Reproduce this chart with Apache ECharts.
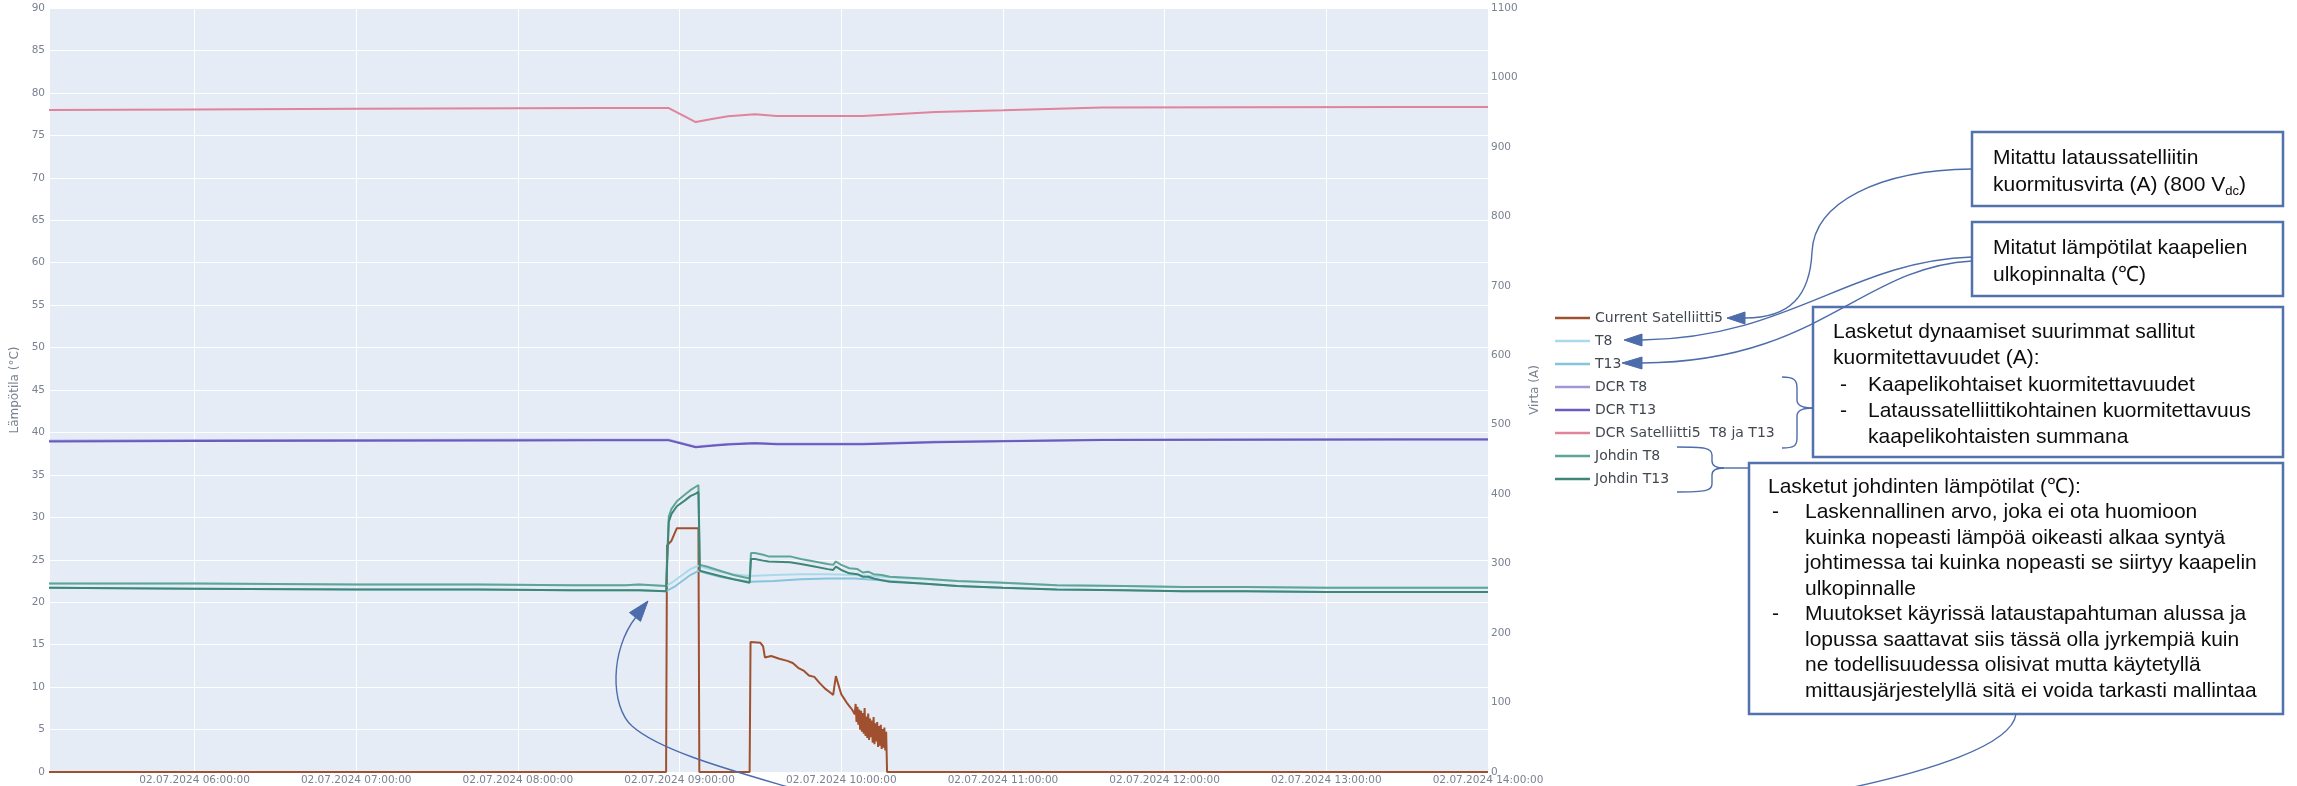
<!DOCTYPE html>
<html>
<head>
<meta charset="utf-8">
<script src="https://cdn.jsdelivr.net/npm/echarts@6/dist/echarts.min.js"></script>
<style>
  html, body { margin: 0; padding: 0; background: #ffffff; }
  #chart { width: 2297px; height: 786px; }
</style>
</head>
<body>
<div id="chart"></div>
<script>
// ---- Measured current of charging satellite 5 (A) ----
const currentTimes = ['05:06','08:55','08:55:20','08:57','08:59','09:07','09:07:20','09:26','09:26:20','09:30','09:31','09:31:40','09:34','09:37','09:40','09:42','09:44','09:46','09:48','09:50','09:52','09:54','09:56','09:57','09:58','09:59','10:00','10:01','10:02','10:03','10:04',
  '10:05:00','10:05:20','10:05:40','10:06:00','10:06:20','10:06:40','10:07:00','10:07:20','10:07:40','10:08:00','10:08:20','10:08:40',
  '10:09:00','10:09:20','10:09:40','10:10:00','10:10:20','10:10:40','10:11:00','10:11:20','10:11:40','10:12:00','10:12:20','10:12:40',
  '10:13:00','10:13:20','10:13:40','10:14:00','10:14:20','10:14:40','10:15:00','10:15:20','10:15:40','10:16:00','10:16:20','10:16:40',
  '10:17:00','14:00'];
const currentValues = [0,0,326,333,351,351,0,0,187,186,181,165,167,163,160,157,150,146,139,137,128,120,114,111,138,125,112,106,100,95,90,
  83,98,72,94,68,90,61,88,58,85,55,92,
  52,80,49,84,46,77,50,74,42,79,40,70,
  44,72,36,66,38,68,33,62,35,64,31,58,
  0,0];

// ---- Measured cable surface temperatures (°C) ----
const surfaceTimes = ['05:06','06:00','07:00','07:45','08:20','08:40','08:45','08:55','08:58','09:01','09:04','09:07','09:10','09:15','09:20','09:26','09:35','09:45','09:55','10:05','10:15','10:30','10:43','11:00','11:20','11:45','12:07','12:30','13:00','13:30','14:00'];
const t8Values  = [22.2,22.2,22.1,22.1,22.0,22.0,22.1,21.9,22.5,23.2,23.9,24.3,24.0,23.6,23.3,23.1,23.2,23.3,23.3,23.2,23.0,22.7,22.5,22.3,22.0,21.9,21.8,21.8,21.7,21.7,21.7];
const t13Values = [21.7,21.6,21.5,21.5,21.4,21.4,21.4,21.3,21.8,22.5,23.2,23.7,23.4,23.0,22.7,22.4,22.5,22.7,22.8,22.8,22.6,22.2,21.9,21.7,21.5,21.4,21.3,21.3,21.2,21.2,21.2];

// ---- Dynamic current ratings (A) ----
const dcrTimes = ['05:06','06:00','07:00','08:00','08:30','08:56','09:06','09:12','09:18','09:28','09:36','10:08','10:35','11:00','11:37','12:30','13:30','14:00'];
const dcrT8Values  = [477.0,477.5,478.0,478.3,478.5,478.5,468.2,470.5,472.3,473.8,472.6,472.6,475.5,476.6,478.5,478.8,479.0,479.0];
const dcrT13Values = [476.0,476.5,477.0,477.3,477.5,477.5,467.6,469.6,471.7,473.2,471.9,471.9,474.9,476.1,478.1,478.3,478.6,478.6];
const dcrSatValues = [953.0,954.0,955.0,955.6,956.0,956.0,935.8,940.1,944.0,947.0,944.5,944.5,950.4,952.7,956.6,957.1,957.6,957.6];

// ---- Calculated conductor temperatures (°C) ----
const conductorTimes = ['05:06','06:00','07:00','07:45','08:20','08:40','08:45','08:55','08:56','08:57','08:59','09:02','09:04','09:06','09:07','09:07:30','09:10','09:15','09:20','09:26','09:26:30','09:28','09:31','09:33','09:41','09:45','09:50','09:55','09:57','09:58','10:00','10:03','10:06','10:08','10:10','10:12','10:15','10:18','10:30','10:43','11:00','11:20','11:45','12:07','12:30','13:00','13:30','14:00'];
const johdinT8Values  = [22.2,22.2,22.1,22.1,22.0,22.0,22.1,21.9,30.1,31.0,31.9,32.7,33.2,33.6,33.8,24.4,24.2,23.7,23.2,22.8,25.8,25.8,25.6,25.4,25.4,25.1,24.8,24.5,24.4,24.8,24.4,24.0,23.9,23.5,23.6,23.3,23.2,23.0,22.8,22.5,22.3,22.0,21.9,21.8,21.8,21.7,21.7,21.7];
const johdinT13Values = [21.7,21.6,21.5,21.5,21.4,21.4,21.4,21.3,29.5,30.4,31.3,32.0,32.5,32.8,33.0,23.7,23.5,23.1,22.7,22.3,25.1,25.1,24.9,24.8,24.7,24.5,24.2,23.9,23.8,24.2,23.8,23.4,23.3,23.0,23.0,22.8,22.6,22.4,22.2,21.9,21.7,21.5,21.4,21.3,21.3,21.2,21.2,21.2];

// ---- Axis ranges ----
const tempAxis = { min: 0, max: 90, step: 5 };
const currentAxis = { min: 0, max: 1100, step: 100 };
const timeRange = ['05:06', '14:00'];

function toMs(hms) {
  const p = hms.split(':').map(Number);
  return Date.UTC(2024, 6, 2, p[0], p[1], p[2] || 0);
}
function zip(times, values) {
  return times.map((t, i) => [toMs(t), values[i]]);
}
function pad(n) { return String(n).padStart(2, '0'); }

const LABEL_GREY = '#7a8190';
const PLOT_FONT = 'DejaVu Sans';
const TICK_SIZE = 10.5;

function lineSeries(name, color, axis, times, values) {
  return {
    name, type: 'line', yAxisIndex: axis, data: zip(times, values),
    showSymbol: false, symbol: 'none', color,
    lineStyle: { color, width: 2 }, emphasis: { disabled: true }
  };
}

const series = [
  lineSeries('Current Satelliitti5', '#a0502e', 1, currentTimes, currentValues),
  lineSeries('T8', '#acd9ea', 0, surfaceTimes, t8Values),
  lineSeries('T13', '#86c4de', 0, surfaceTimes, t13Values),
  lineSeries('DCR T8', '#a396d6', 1, dcrTimes, dcrT8Values),
  lineSeries('DCR T13', '#6a5bc0', 1, dcrTimes, dcrT13Values),
  lineSeries('DCR Satelliitti5  T8 ja T13', '#e0839b', 1, dcrTimes, dcrSatValues),
  lineSeries('Johdin T8', '#5fa596', 0, conductorTimes, johdinT8Values),
  lineSeries('Johdin T13', '#3e8676', 0, conductorTimes, johdinT13Values)
];

// ---- Annotation overlay (callout boxes, braces and arrows) ----
const EDGE = '#5272ae';
const WIRE = '#4d6cab';
const NOTE_FONT = '21px "Liberation Sans"';
const NOTE_SMALL = '13px "Liberation Sans"';

const measureCtx = document.createElement('canvas').getContext('2d');
function textWidth(str, font) { measureCtx.font = font; return measureCtx.measureText(str).width; }

function box(x, y, w, h) {
  return { type: 'rect', z: 100, shape: { x, y, width: w, height: h },
    style: { fill: '#ffffff', stroke: EDGE, lineWidth: 2.5 } };
}
function note(x, y, str, font) {
  return { type: 'text', z: 101, x, y,
    style: { text: str, font: font || NOTE_FONT, fill: '#0d0d0d',
      textAlign: 'left', textVerticalAlign: 'middle', verticalAlign: 'middle' } };
}
function curve(p0, c1, c2, p1) {
  return { type: 'bezierCurve', z: 102,
    shape: { x1: p0[0], y1: p0[1], cpx1: c1[0], cpy1: c1[1], cpx2: c2[0], cpy2: c2[1], x2: p1[0], y2: p1[1] },
    style: { stroke: WIRE, lineWidth: 1.4, fill: null } };
}
function seg(p0, p1) {
  return { type: 'line', z: 102, shape: { x1: p0[0], y1: p0[1], x2: p1[0], y2: p1[1] },
    style: { stroke: WIRE, lineWidth: 1.4 } };
}
function head(points) {
  return { type: 'polygon', z: 103, shape: { points }, style: { fill: WIRE, stroke: WIRE, lineWidth: 1 } };
}

const graphics = [];

// Box 1: measured load current
graphics.push(box(1972, 132, 311, 74));
graphics.push(note(1993, 158, 'Mitattu lataussatelliitin'));
const line2 = 'kuormitusvirta (A) (800 V';
const w2 = textWidth(line2, NOTE_FONT);
const wdc = textWidth('dc', NOTE_SMALL);
graphics.push(note(1993, 185, line2));
graphics.push(note(1993 + w2, 191, 'dc', NOTE_SMALL));
graphics.push(note(1993 + w2 + wdc, 185, ')'));

// Box 2: measured surface temperatures
graphics.push(box(1972, 222, 311, 74));
graphics.push(note(1993, 248, 'Mitatut lämpötilat kaapelien'));
graphics.push(note(1993, 275, 'ulkopinnalta (℃)'));

// Box 3: dynamic current ratings
graphics.push(box(1813, 307, 470, 150));
graphics.push(note(1833, 332, 'Lasketut dynaamiset suurimmat sallitut'));
graphics.push(note(1833, 358, 'kuormitettavuudet (A):'));
graphics.push(note(1840, 385, '-'));
graphics.push(note(1868, 385, 'Kaapelikohtaiset kuormitettavuudet'));
graphics.push(note(1840, 411, '-'));
graphics.push(note(1868, 411, 'Lataussatelliittikohtainen kuormitettavuus'));
graphics.push(note(1868, 437, 'kaapelikohtaisten summana'));

// Box 4: conductor temperatures
graphics.push(box(1749, 463, 534, 251));
const box4Rows = [
  [1768, 'Lasketut johdinten lämpötilat (℃):'],
  [1805, 'Laskennallinen arvo, joka ei ota huomioon', true],
  [1805, 'kuinka nopeasti lämpöä oikeasti alkaa syntyä'],
  [1805, 'johtimessa tai kuinka nopeasti se siirtyy kaapelin'],
  [1805, 'ulkopinnalle'],
  [1805, 'Muutokset käyrissä lataustapahtuman alussa ja', true],
  [1805, 'lopussa saattavat siis tässä olla jyrkempiä kuin'],
  [1805, 'ne todellisuudessa olisivat mutta käytetyllä'],
  [1805, 'mittausjärjestelyllä sitä ei voida tarkasti mallintaa']
];
box4Rows.forEach((r, i) => {
  const y = 487 + i * 25.5;
  if (r[2]) graphics.push(note(1772, y, '-'));
  graphics.push(note(r[0], y, r[1]));
});

// Arrow from box 1 to the current legend entry
graphics.push(curve([1972, 169], [1880, 170], [1814, 202], [1812, 252]));
graphics.push(curve([1812, 252], [1810, 296], [1790, 318], [1745, 318]));
graphics.push(head([[1727, 318], [1745, 312], [1745, 324]]));

// Arrows from box 2 to the T8 and T13 legend entries
graphics.push(curve([1972, 257], [1850, 261], [1790, 338], [1642, 340]));
graphics.push(head([[1624, 340], [1642, 334], [1642, 346]]));
graphics.push(curve([1972, 261], [1860, 267], [1820, 362], [1642, 363]));
graphics.push(head([[1622, 363], [1642, 357], [1642, 369]]));

// Brace grouping the DCR entries
graphics.push(curve([1782, 377], [1794, 377], [1797, 380], [1797, 388]));
graphics.push(seg([1797, 388], [1797, 400]));
graphics.push(curve([1797, 400], [1797, 406], [1805, 408], [1813, 408]));
graphics.push(curve([1813, 408], [1805, 408], [1797, 410], [1797, 416]));
graphics.push(seg([1797, 416], [1797, 438]));
graphics.push(curve([1797, 438], [1797, 446], [1794, 448], [1782, 448]));

// Brace grouping the conductor entries
graphics.push(curve([1677, 447], [1705, 447], [1712, 448], [1712, 455]));
graphics.push(seg([1712, 455], [1712, 461]));
graphics.push(curve([1712, 461], [1712, 466], [1716, 468], [1724, 468]));
graphics.push(seg([1724, 468], [1749, 468]));
graphics.push(curve([1724, 468], [1716, 468], [1712, 470], [1712, 475]));
graphics.push(seg([1712, 475], [1712, 484]));
graphics.push(curve([1712, 484], [1712, 491], [1705, 492], [1677, 492]));

// Leader from box 4 running off the bottom, and its end pointing at the conductor curves
graphics.push(curve([2016, 714], [2012, 745], [1930, 772], [1830, 792]));
graphics.push(curve([805, 792], [745, 774], [662, 753], [632, 726]));
graphics.push(curve([632, 726], [610, 706], [610, 650], [636, 617]));
graphics.push(head([[648, 601], [629.5, 612.6], [640.5, 621.4]]));

const option = {
  animation: false,
  useUTC: true,
  backgroundColor: '#ffffff',
  grid: { left: 49, right: 809, top: 8, bottom: 13, show: true, backgroundColor: '#e5ecf6', borderWidth: 0, containLabel: false },
  legend: {
    orient: 'vertical', left: 1555, top: 311, padding: 0, itemGap: 9,
    icon: 'rect', itemWidth: 35, itemHeight: 2.5,
    textStyle: { fontFamily: PLOT_FONT, fontSize: 14, lineHeight: 14, color: '#42474f' },
    data: series.map(s => s.name)
  },
  xAxis: {
    type: 'time', min: toMs(timeRange[0]), max: toMs(timeRange[1]),
    minInterval: 3600 * 1000, maxInterval: 3600 * 1000,
    axisLine: { show: false }, axisTick: { show: false },
    splitLine: { show: true, lineStyle: { color: '#ffffff', width: 1 } },
    axisLabel: {
      fontFamily: PLOT_FONT, fontSize: TICK_SIZE, color: LABEL_GREY, margin: 3,
      showMinLabel: false, showMaxLabel: true, hideOverlap: false,
      formatter: function (v) {
        const d = new Date(v);
        return pad(d.getUTCDate()) + '.' + pad(d.getUTCMonth() + 1) + '.' + d.getUTCFullYear() + ' ' +
          pad(d.getUTCHours()) + ':' + pad(d.getUTCMinutes()) + ':' + pad(d.getUTCSeconds());
      }
    }
  },
  yAxis: [
    {
      type: 'value', position: 'left', min: tempAxis.min, max: tempAxis.max, interval: tempAxis.step,
      name: 'Lämpötila (°C)', nameLocation: 'middle', nameGap: 28,
      nameTextStyle: { fontFamily: PLOT_FONT, fontSize: 12, color: LABEL_GREY },
      axisLine: { show: false }, axisTick: { show: false },
      axisLabel: { fontFamily: PLOT_FONT, fontSize: TICK_SIZE, color: LABEL_GREY, margin: 4 },
      splitLine: { show: true, lineStyle: { color: '#ffffff', width: 1 } }
    },
    {
      type: 'value', position: 'right', min: currentAxis.min, max: currentAxis.max, interval: currentAxis.step,
      name: 'Virta (A)', nameLocation: 'middle', nameGap: 35,
      nameTextStyle: { fontFamily: PLOT_FONT, fontSize: 12, color: LABEL_GREY },
      axisLine: { show: false }, axisTick: { show: false },
      axisLabel: { fontFamily: PLOT_FONT, fontSize: TICK_SIZE, color: LABEL_GREY, margin: 3,
        formatter: v => String(v) },
      splitLine: { show: false }
    }
  ],
  series,
  graphic: graphics
};

const chart = echarts.init(document.getElementById('chart'), null, { renderer: 'canvas' });
chart.setOption(option);
</script>
</body>
</html>
